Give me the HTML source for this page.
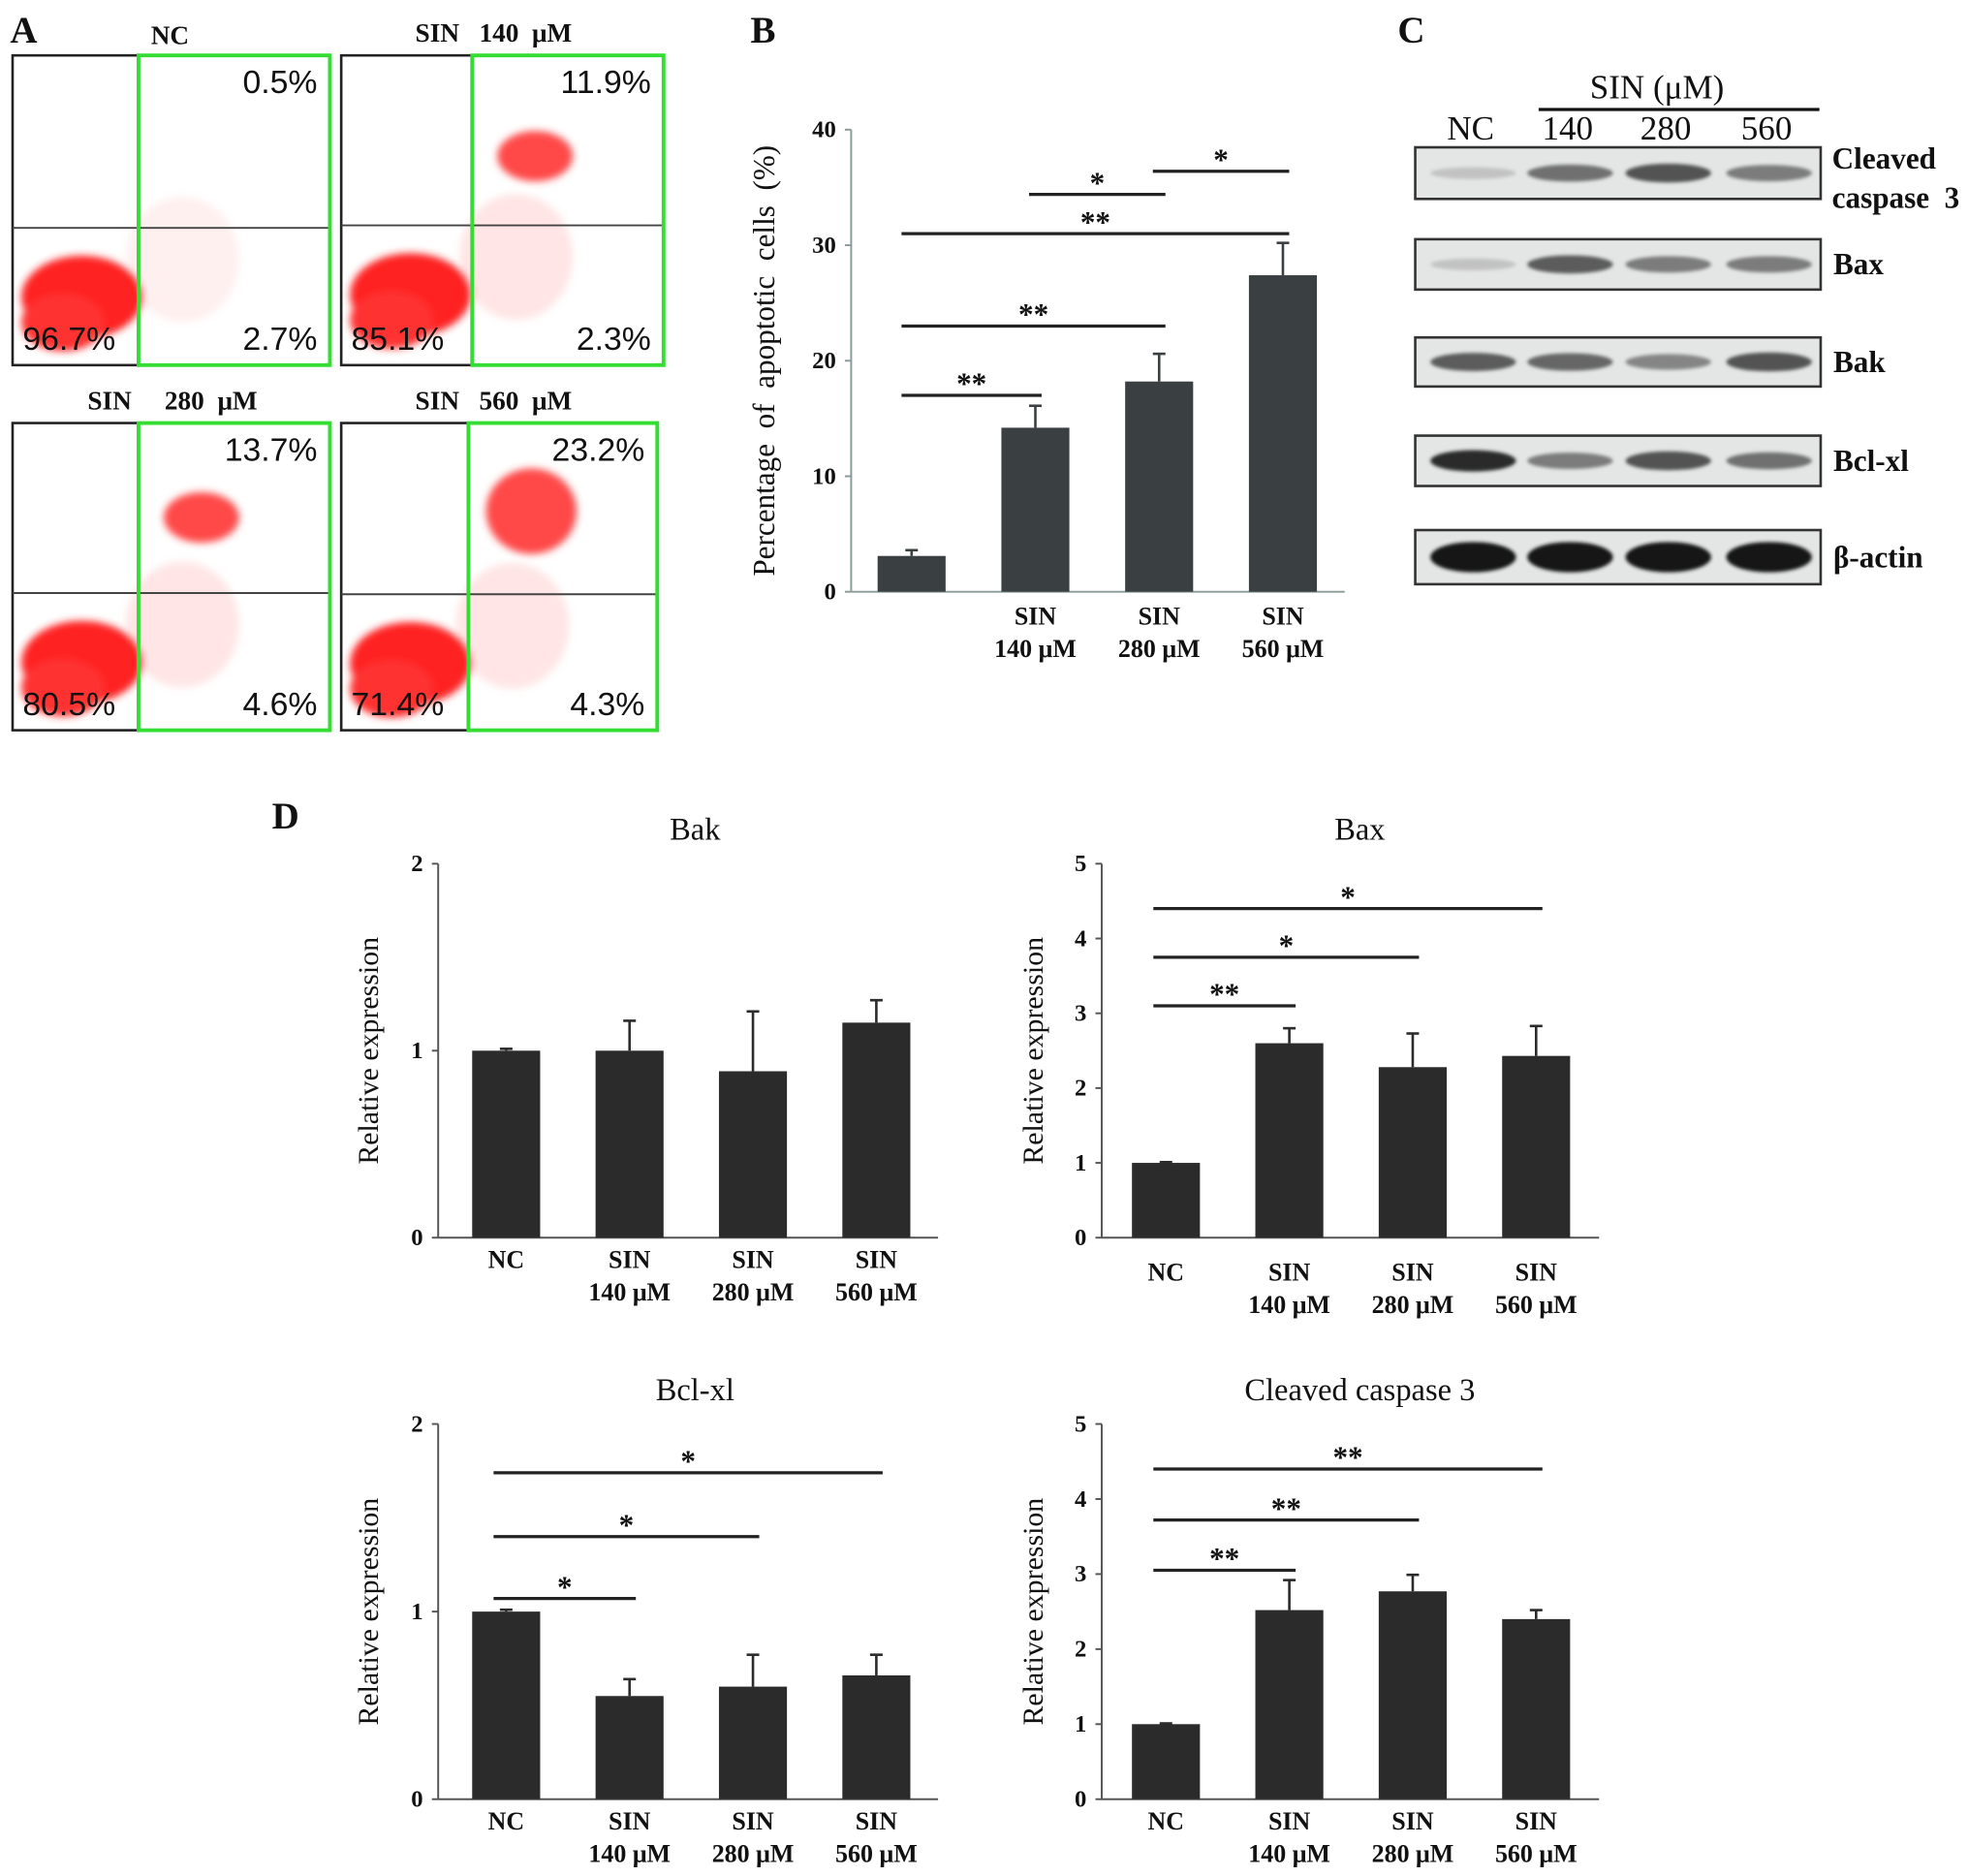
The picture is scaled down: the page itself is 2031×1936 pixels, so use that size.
<!DOCTYPE html>
<html><head><meta charset="utf-8"><style>
html,body{margin:0;padding:0;background:#fff}
svg{display:block}
text{font-family:"Liberation Serif",serif;fill:#111;white-space:pre}
.sans{font-family:"Liberation Sans",sans-serif}
</style></head><body>
<svg id="fig" width="2031" height="1936" viewBox="0 0 1563 1490" preserveAspectRatio="none" xmlns="http://www.w3.org/2000/svg">
<defs>
<filter id="blur2" x="-50%" y="-50%" width="200%" height="200%"><feGaussianBlur stdDeviation="3"/></filter>
<filter id="blur1" x="-50%" y="-50%" width="200%" height="200%"><feGaussianBlur stdDeviation="1.5"/></filter>
</defs>
<g id="panelA"></g>
<g id="panelB"></g>
<g id="panelC"></g>
<g id="panelD"></g>
</svg>
<script>
// ---- Panel B data ----
const bCategories = ["", "SIN|140 μM", "SIN|280 μM", "SIN|560 μM"];
const bValues = [3.1, 14.2, 18.2, 27.4];
const bErrors = [0.5, 1.9, 2.4, 2.8];
const bTicks = [0, 10, 20, 30, 40];
const bSig = [[0,1,17,"**"],[0,2,23,"**"],[0,3,31,"**"],[1,2,34.4,"*"],[2,3,36.4,"*"]];
// ---- Panel D data ----
const dCategories = ["NC", "SIN|140 μM", "SIN|280 μM", "SIN|560 μM"];
const bakValues = [1.0, 1.0, 0.89, 1.15];
const bakErrors = [0.01, 0.16, 0.32, 0.12];
const baxValues = [1.0, 2.6, 2.28, 2.43];
const baxErrors = [0.01, 0.2, 0.45, 0.4];
const bclValues = [1.0, 0.55, 0.6, 0.66];
const bclErrors = [0.01, 0.09, 0.17, 0.11];
const casValues = [1.0, 2.52, 2.77, 2.4];
const casErrors = [0.01, 0.4, 0.22, 0.12];
const ticks2 = [0, 1, 2];
const ticks5 = [0, 1, 2, 3, 4, 5];
const baxSig = [[0,1,3.1,"**"],[0,2,3.75,"*"],[0,3,4.4,"*"]];
const bclSig = [[0,1,1.07,"*"],[0,2,1.4,"*"],[0,3,1.74,"*"]];
const casSig = [[0,1,3.05,"**"],[0,2,3.72,"**"],[0,3,4.4,"**"]];
// ---- Panel A data ----
const flowTitles = ["NC", "SIN   140  μM", "SIN     280  μM", "SIN   560  μM"];
const flowQuads = [["0.5%","2.7%","96.7%"],["11.9%","2.3%","85.1%"],["13.7%","4.6%","80.5%"],["23.2%","4.3%","71.4%"]];
// ---- Panel C data ----
const blotLanes = ["NC","140","280","560"];
const blotRows = ["Cleaved caspase 3","Bax","Bak","Bcl-xl","β-actin"];
const blotIntensity = [[0.15,0.55,0.7,0.5],[0.15,0.65,0.5,0.5],[0.65,0.6,0.45,0.7],[0.9,0.5,0.7,0.55],[1,1,1,1]];

const NS="http://www.w3.org/2000/svg";
function el(tag, attrs, parent, txt){const e=document.createElementNS(NS,tag);for(const k in attrs)e.setAttribute(k,attrs[k]);if(txt!==undefined)e.textContent=txt;parent.appendChild(e);return e;}

// ---------- Panel A ----------
const A=document.getElementById('panelA');
const lbA=el('text',{x:8,y:34,'font-size':30,'font-weight':'bold'},A,'A');


const boxes=[{x:10,y:44,w:252,h:246,gx:110,hy:181,tx:135,ty:35},{x:271,y:44,w:256,h:246,gx:375,hy:179,tx:392,ty:33},{x:10,y:336,w:252,h:244,gx:110,hy:471,tx:137,ty:325},{x:271,y:336,w:251,h:244,gx:372,hy:472,tx:392,ty:325}];
flowQuads.forEach((q,i)=>{
  const b=boxes[i];
  const g=el('g',{},A);
  
  
  const t=el('text',{x:b.tx,y:b.ty,'font-size':21,'text-anchor':'middle','font-weight':'bold'},g,flowTitles[i]);
  
  
  el('rect',{x:b.x,y:b.y,width:b.w,height:b.h,fill:'#fff',stroke:'#222','stroke-width':2},g);
  const bl=el('g',{filter:'url(#blur2)'},g);
  el('ellipse',{cx:b.gx+35,cy:b.hy+25,rx:45,ry:50,fill:'#f99',opacity:i==0?0.15:0.25},bl);
  el('ellipse',{cx:b.x+55,cy:b.hy+55,rx:48,ry:33,fill:'#f22'},bl);
  el('ellipse',{cx:b.x+40,cy:b.hy+75,rx:33,ry:23,fill:'#f33'},bl);
  if(i>0){el('ellipse',{cx:b.gx+50,cy:b.y+(i==1?80:i==2?75:70),rx:i==3?36:30,ry:i==3?34:20,fill:'#f33',opacity:0.9},bl);}
  el('line',{x1:b.x,y1:b.hy,x2:b.x+b.w,y2:b.hy,stroke:'#444','stroke-width':1.5},g);
  el('rect',{x:b.gx,y:b.y,width:b.x+b.w-b.gx,height:b.h,fill:'none',stroke:'#3d3','stroke-width':3},g);
  el('text',{x:b.x+b.w-10,y:b.y+30,'font-size':26,'text-anchor':'end',class:'sans'},g,q[0]);
  el('text',{x:b.x+b.w-10,y:b.y+b.h-12,'font-size':26,'text-anchor':'end',class:'sans'},g,q[1]);
  el('text',{x:b.x+8,y:b.y+b.h-12,'font-size':26,class:'sans',fill:'#222'},g,q[2]);
});

// ---------- Bar chart helper ----------
function barChart(parent,opt){
  const g=el('g',{},parent);
  
  
  const ymax=opt.ticks[opt.ticks.length-1];
  const Y=v=>opt.y0-(v/ymax)*(opt.y0-opt.yTop);
  const X=i=>opt.cx0+i*opt.step;
  el('line',{x1:opt.ax,y1:opt.yTop,x2:opt.ax,y2:opt.y0,stroke:opt.axisColor,'stroke-width':1.5},g);
  el('line',{x1:opt.ax,y1:opt.y0,x2:opt.xEnd,y2:opt.y0,stroke:opt.axisColor,'stroke-width':1.5},g);
  opt.ticks.forEach(t=>{
    el('line',{x1:opt.ax-5,y1:Y(t),x2:opt.ax,y2:Y(t),stroke:opt.axisColor,'stroke-width':1.5},g);
    const tl=el('text',{x:opt.ax-12,y:Y(t)+6,'font-size':19,'font-weight':'bold','text-anchor':'end'},g,String(t));
    
    
  });
  const yl=el('text',{x:0,y:0,'font-size':opt.ylSize,'text-anchor':'middle',transform:`translate(${opt.ylx},${(opt.yTop+opt.y0)/2}) rotate(-90)`},g,opt.ylabel);
  
  
  if(opt.title){const tt=el('text',{x:opt.titleX,y:opt.yTop-19,'font-size':25,'text-anchor':'middle'},g,opt.title);
    
    }
  opt.values.forEach((v,i)=>{
    const cx=X(i);
    const e=opt.errors[i];
    el('line',{x1:cx,y1:Y(v),x2:cx,y2:Y(v+e),stroke:opt.barColor,'stroke-width':2},g);
    el('line',{x1:cx-5,y1:Y(v+e),x2:cx+5,y2:Y(v+e),stroke:opt.barColor,'stroke-width':2},g);
    const r=el('rect',{x:cx-opt.bw/2,y:Y(v),width:opt.bw,height:opt.y0-Y(v),fill:opt.barColor},g);
    
    
    const parts=opt.cats[i].split('|');
    parts.forEach((p,k)=>{if(!p)return;
      const xl=el('text',{x:cx,y:opt.y0+opt.xlOff+k*26,'font-size':20,'font-weight':'bold','text-anchor':'middle'},g,p);
      
      });
  });
  (opt.sig||[]).forEach(s=>{
    const x1=X(s[0])-(s[0]==0?opt.sigPadL:5), x2=X(s[1])+5;
    const sl=el('line',{x1:x1,y1:Y(s[2]),x2:x2,y2:Y(s[2]),stroke:'#222','stroke-width':2.5},g);
    
    
    el('text',{x:(x1+x2)/2,y:Y(s[2])-1,'font-size':24,'font-weight':'bold','text-anchor':'middle'},g,s[3]);
  });
}

// ---------- Panel B ----------
const B=document.getElementById('panelB');
const lbB=el('text',{x:596,y:34,'font-size':30,'font-weight':'bold'},B,'B');


barChart(B,{name:'apoptotic-cells-chart',ax:676,yTop:103,y0:470,xEnd:1068,cx0:724,step:98.3,bw:54,values:bValues,errors:bErrors,ticks:bTicks,cats:bCategories,sig:bSig,sigPadL:8,barColor:'#3a4042',axisColor:'#8a9a98',ylabel:'Percentage  of  apoptotic  cells  (%)',ylx:615,ylSize:24,xlOff:26});

// ---------- Panel C ----------
const C=document.getElementById('panelC');
const lbC=el('text',{x:1110,y:34,'font-size':30,'font-weight':'bold'},C,'C');


el('text',{x:1316,y:78,'font-size':27,'text-anchor':'middle'},C,'SIN (μM)');
el('line',{x1:1222,y1:87,x2:1445,y2:87,stroke:'#111','stroke-width':2.5},C);
const laneX=[1168,1245,1323,1403];
blotLanes.forEach((l,i)=>{const t=el('text',{x:laneX[i],y:111,'font-size':27,'text-anchor':'middle'},C,l);
  
  });
const rowY=[117,190,268,346,421], rowH=[41,40,39,40,43];
blotRows.forEach((r,ri)=>{
  const g=el('g',{},C);
  
  
  el('rect',{x:1124,y:rowY[ri],width:322,height:rowH[ri],fill:'#e4e6e6',stroke:'#333','stroke-width':2},g);
  const bg=el('g',{filter:'url(#blur1)'},g);
  blotIntensity[ri].forEach((v,li)=>{
    const c=Math.round(225-v*205);
    el('ellipse',{cx:laneX[li]+2,cy:rowY[ri]+rowH[ri]/2,rx:34,ry:ri==4?12:4+v*5,fill:`rgb(${c},${c},${c})`},bg);
  });
  const cy=rowY[ri]+rowH[ri]/2+8;
  if(ri==0){el('text',{x:1455,y:134,'font-size':24,'font-weight':'bold'},g,'Cleaved');
    el('text',{x:1455,y:165,'font-size':24,'font-weight':'bold'},g,'caspase  3');}
  else el('text',{x:1456,y:cy,'font-size':24,'font-weight':'bold'},g,r);
});

// ---------- Panel D ----------
const D=document.getElementById('panelD');
const lbD=el('text',{x:216,y:658,'font-size':30,'font-weight':'bold'},D,'D');


const common={bw:54,step:98,barColor:'#2b2b2b',axisColor:'#555',ylabel:'Relative expression',ylSize:23,sigPadL:10,cats:dCategories};
barChart(D,Object.assign({},common,{name:'bak-chart',title:'Bak',titleX:552,ax:348,yTop:686,y0:983,xEnd:745,cx0:402,values:bakValues,errors:bakErrors,ticks:ticks2,ylx:300,xlOff:24,sig:[]}));
barChart(D,Object.assign({},common,{name:'bax-chart',title:'Bax',titleX:1080,ax:875,yTop:686,y0:983,xEnd:1270,cx0:926,values:baxValues,errors:baxErrors,ticks:ticks5,ylx:828,xlOff:34,sig:baxSig}));
barChart(D,Object.assign({},common,{name:'bcl-xl-chart',title:'Bcl-xl',titleX:552,ax:348,yTop:1131,y0:1429,xEnd:745,cx0:402,values:bclValues,errors:bclErrors,ticks:ticks2,ylx:300,xlOff:24,sig:bclSig}));
barChart(D,Object.assign({},common,{name:'cleaved-caspase-3-chart',title:'Cleaved caspase 3',titleX:1080,ax:875,yTop:1131,y0:1429,xEnd:1270,cx0:926,values:casValues,errors:casErrors,ticks:ticks5,ylx:828,xlOff:24,sig:casSig}));
</script>
</body></html>
